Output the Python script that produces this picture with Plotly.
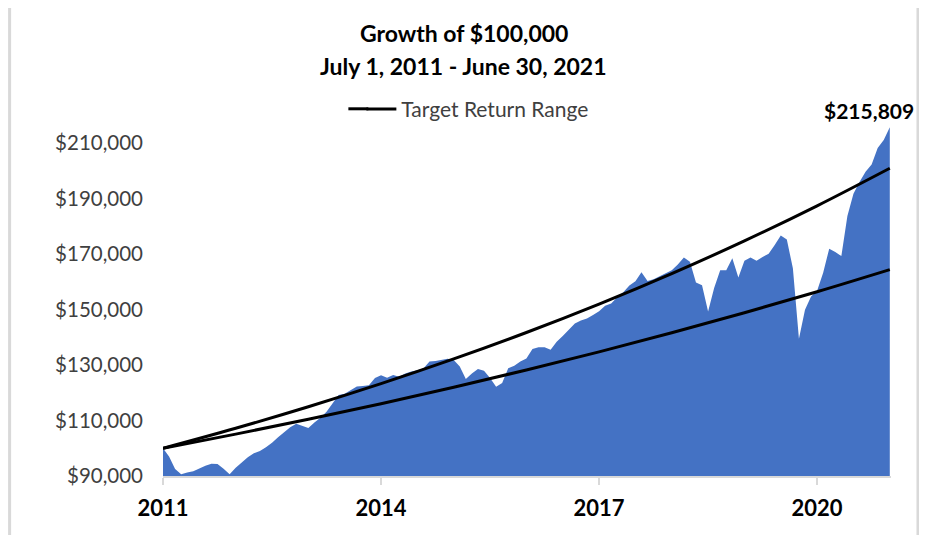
import plotly.graph_objects as go

# ---- data ----
months = list(range(121))  # month index from July 2011
portfolio = [
    100000, 97000, 92500, 90600, 91300, 91700, 92700, 93700, 94400, 94300,
    92600, 90600, 93000, 95000, 96800, 98200, 99000, 100400, 102000, 104000,
    105700, 107600, 108800, 108000, 107300, 109300, 111000, 113200, 116000, 119200,
    119700, 120900, 122300, 122500, 122700, 125300, 126300, 125400, 126400, 125800,
    127000, 127700, 128100, 128800, 131300, 131500, 131800, 132300, 131800, 129500,
    125000, 127000, 128600, 128000, 125300, 122200, 123500, 128900, 129800, 131300,
    132400, 135800, 136400, 136400, 135500, 138400, 140500, 142700, 145000, 146100,
    146800, 148100, 149400, 151400, 152200, 154500, 156300, 158700, 160200, 163500,
    160300, 161000, 162000, 163000, 164200, 166300, 168800, 167300, 159800, 158800,
    149300, 157800, 164200, 164200, 168500, 161600, 167600, 168800, 167600, 169000,
    170200, 173300, 176700, 175300, 164900, 139500, 150000, 154700, 156800, 163300,
    172000, 170800, 169300, 183800, 191800, 196000, 199700, 202300, 208300, 211200,
    215809,
]
target_months = [0, 12, 24, 36, 48, 60, 72, 84, 96, 108, 120]
target_high = [100000, 107230, 114980, 123290, 132210, 141760, 152010, 163000, 174790, 187430, 200980]
target_low = [100000, 105100, 110460, 116090, 122010, 128240, 134780, 141650, 148880, 156470, 164450]

tick_months = [0, 36, 72, 108]
tick_labels = ["2011", "2014", "2017", "2020"]
y_ticks = [90000, 110000, 130000, 150000, 170000, 190000, 210000]
y_tick_labels = ["$90,000", "$110,000", "$130,000", "$150,000", "$170,000", "$190,000", "$210,000"]

FONT = "Lato"

fig = go.Figure()
fig.add_trace(go.Scatter(
    x=months, y=portfolio, mode="lines", line=dict(width=0, color="#4472C4"),
    fill="tozeroy", fillcolor="#4472C4", showlegend=False, name="Portfolio",
    hoverinfo="x+y",
))
fig.add_trace(go.Scatter(
    x=target_months, y=target_high, mode="lines", line=dict(color="black", width=3, shape="spline"),
    name="Target Return Range", showlegend=True,
))
fig.add_trace(go.Scatter(
    x=target_months, y=target_low, mode="lines", line=dict(color="black", width=3, shape="spline"),
    name="Target Return Range (low)", showlegend=False,
))

# page body has an 8px margin; the figure is sized/offset to compensate
OFF = 8
W, H = 927 - OFF, 535 - OFF
ml, mr = 162.5 - OFF, 36
mt, mb = 109.7 - OFF, 59
pw = W - ml - mr
ph = H - mt - mb

def px2paper_x(px):
    return (px - OFF - ml) / pw

def py2paper_y(py):
    return (H - mb - (py - OFF)) / ph

fig.update_layout(
    width=W, height=H,
    margin=dict(l=ml, r=mr, t=mt, b=mb, pad=0),
    paper_bgcolor="white", plot_bgcolor="white",
    font=dict(family=FONT, color="#404040"),
    showlegend=True,
    legend=dict(
        orientation="h", x=px2paper_x(361), y=py2paper_y(109), xanchor="left", yanchor="middle",
        font=dict(family=FONT, size=21, color="#404040"), bgcolor="rgba(0,0,0,0)",
    ),
    xaxis=dict(
        range=[0, 120.2], tickmode="array", tickvals=tick_months, ticktext=tick_labels,
        showgrid=False, zeroline=False, showline=True, linecolor="#d9d9d9", linewidth=2,
        ticks="outside", ticklen=7, tickcolor="#d9d9d9", tickwidth=2,
        ticklabelstandoff=5,
        tickfont=dict(family=FONT, size=22, color="black", weight="bold"),
        fixedrange=True, automargin=False,
    ),
    yaxis=dict(
        range=[90000, 222000], tickmode="array", tickvals=y_ticks, ticktext=y_tick_labels,
        showgrid=False, zeroline=False, showline=False, ticks="",
        ticklabelstandoff=19,
        tickfont=dict(family=FONT, size=20.5, color="#404040"),
        fixedrange=True, automargin=False,
    ),
    annotations=[
        dict(text="<b>Growth of $100,000</b>", xref="paper", yref="paper",
             x=px2paper_x(464), y=py2paper_y(33), xanchor="center", yanchor="middle",
             showarrow=False, font=dict(family=FONT, size=23, color="black")),
        dict(text="<b>July 1, 2011 - June 30, 2021</b>", xref="paper", yref="paper",
             x=px2paper_x(463), y=py2paper_y(66), xanchor="center", yanchor="middle",
             showarrow=False, font=dict(family=FONT, size=23, color="black")),
        dict(text="<b>$215,809</b>", x=120, y=portfolio[-1], xref="x", yref="y",
             xanchor="center", yanchor="middle", xshift=-21, yshift=17,
             showarrow=False, font=dict(family=FONT, size=21, color="black")),
    ],
    shapes=[
        # extend legend line sample to the left, as in the reference
        dict(type="line", xref="paper", yref="paper",
             x0=px2paper_x(348), x1=px2paper_x(368), y0=py2paper_y(108.5), y1=py2paper_y(108.5),
             line=dict(color="black", width=3)),
        dict(type="line", xref="paper", yref="paper",
             x0=px2paper_x(9), x1=px2paper_x(9), y0=py2paper_y(5), y1=py2paper_y(540),
             line=dict(color="#d9d9d9", width=3)),
        dict(type="line", xref="paper", yref="paper",
             x0=px2paper_x(918), x1=px2paper_x(918), y0=py2paper_y(0), y1=py2paper_y(540),
             line=dict(color="#d9d9d9", width=3)),
    ],
)

fig.write_html("out.html")
